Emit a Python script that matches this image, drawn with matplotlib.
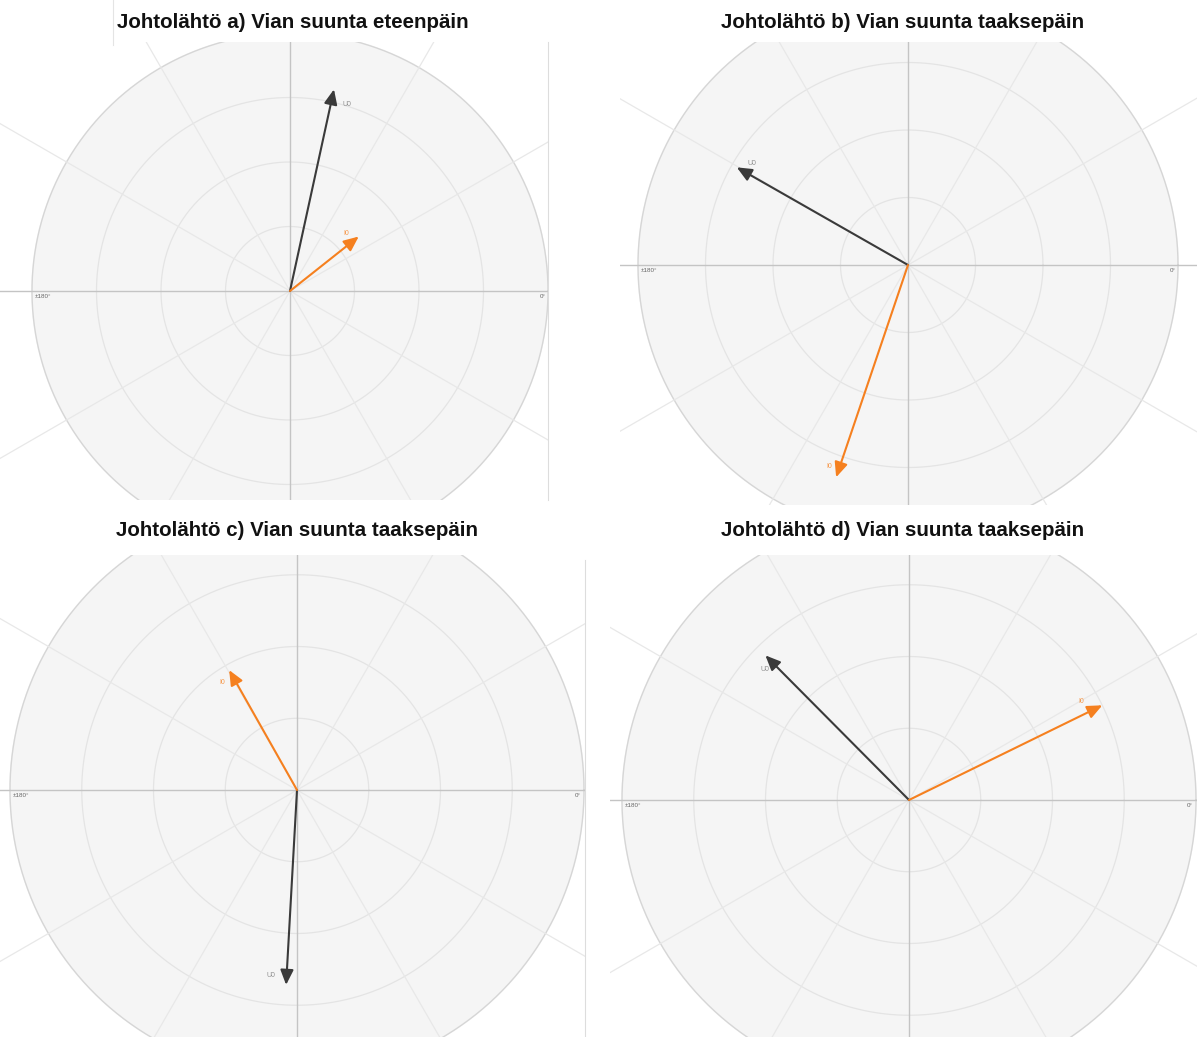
import numpy as np
import matplotlib
matplotlib.use("Agg")
import matplotlib.pyplot as plt

plt.rcParams['font.family'] = ['Liberation Sans', 'DejaVu Sans']

# Phasor data for each feeder: angle in degrees, magnitude relative to outer ring
titles = [
    "Johtolähtö a) Vian suunta eteenpäin",
    "Johtolähtö b) Vian suunta taaksepäin",
    "Johtolähtö c) Vian suunta taaksepäin",
    "Johtolähtö d) Vian suunta taaksepäin",
]
u0_angle = [77.7, 150.3, 266.8, 134.8]
u0_mag = [0.80, 0.73, 0.68, 0.71]
i0_angle = [38.4, 251.3, 119.5, 26.1]
i0_mag = [0.34, 0.83, 0.48, 0.75]
u0_label = "U0"
i0_label = "I0"
left_tick = "±180°"
right_tick = "0°"

W, H = 1197, 1037
fig = plt.figure(figsize=(W / 100, H / 100), dpi=100)
fig.patch.set_facecolor("white")

# panel layout in pixels: plot centre, outer radius, visible box, title position
panels = [
    dict(cx=290, cy=291, R=258, box=(0, 42, 548, 500), title=(293, 22)),
    dict(cx=908, cy=265, R=270, box=(620, 42, 1197, 505), title=(903, 22)),
    dict(cx=297, cy=790, R=287, box=(0, 555, 585, 1037), title=(297, 530)),
    dict(cx=909, cy=800, R=287, box=(610, 555, 1197, 1037), title=(903, 530)),
]
# label offsets (points) for the arrow tips
u0_off = [(9, -11), (11, 3), (-11, 7), (0, -10)]
i0_off = [(-9, 2), (-5, 8), (-5, -9), (-15, 3)]

BLACK = "#3a3a3a"
ORANGE = "#f5801f"
FACE = "#f5f5f5"

for k, p in enumerate(panels):
    x0, y0, x1, y1 = p["box"]
    ax = fig.add_axes([x0 / W, 1 - y1 / H, (x1 - x0) / W, (y1 - y0) / H])
    R = p["R"]
    ax.set_xlim((x0 - p["cx"]) / R, (x1 - p["cx"]) / R)
    ax.set_ylim((p["cy"] - y1) / R, (p["cy"] - y0) / R)
    ax.axis("off")

    t = np.linspace(0, 2 * np.pi, 400)
    ax.fill(np.cos(t), np.sin(t), color=FACE, zorder=0)
    for r in (0.25, 0.5, 0.75):
        ax.plot(r * np.cos(t), r * np.sin(t), color="#e4e4e4", lw=0.9, zorder=1)
    ax.plot(np.cos(t), np.sin(t), color="#d6d6d6", lw=1.0, zorder=1)

    for a in range(30, 360, 30):
        if a % 90 == 0:
            continue
        th = np.deg2rad(a)
        ax.plot([0, 2 * np.cos(th)], [0, 2 * np.sin(th)], color="#e8e8e8", lw=0.9, zorder=1)
    ax.plot([-3, 3], [0, 0], color="#c4c4c4", lw=1.0, zorder=2)
    ax.plot([0, 0], [-3, 3], color="#c4c4c4", lw=1.0, zorder=2)

    ax.text(-1.0 + 0.01, -0.012, left_tick, fontsize=4.5, color="#666666", ha="left", va="top")
    ax.text(0.99, -0.012, right_tick, fontsize=4.5, color="#666666", ha="right", va="top")

    for ang, mag, col, lab, off in (
        (u0_angle[k], u0_mag[k], BLACK, u0_label, u0_off[k]),
        (i0_angle[k], i0_mag[k], ORANGE, i0_label, i0_off[k]),
    ):
        th = np.deg2rad(ang)
        tip = (mag * np.cos(th), mag * np.sin(th))
        ax.annotate("", xy=tip, xytext=(0, 0),
                    arrowprops=dict(arrowstyle="-|>,head_length=0.5,head_width=0.22",
                                    color=col, lw=1.5,
                                    mutation_scale=18, shrinkA=0, shrinkB=0),
                    zorder=5)
        ax.annotate(lab, xy=tip, xytext=off, textcoords="offset points",
                    fontsize=5, color=col if col == ORANGE else "#777777",
                    alpha=0.8, ha="center", va="center")

    tx, ty = p["title"]
    fig.text(tx / W, 1 - ty / H, titles[k], fontsize=14.8, fontweight="bold",
             color="#111111", ha="center", va="center")

# thin frame edges of the stitched panels
fig.add_artist(plt.Line2D([548 / W, 548 / W], [1 - 500 / H, 1 - 42 / H], color="#dddddd", lw=0.8))
fig.add_artist(plt.Line2D([585 / W, 585 / W], [0, 1 - 560 / H], color="#dddddd", lw=0.8))
fig.add_artist(plt.Line2D([113 / W, 113 / W], [1 - 45 / H, 1], color="#e4e4e4", lw=0.8))

fig.savefig("out.png", dpi=100, facecolor="white")
